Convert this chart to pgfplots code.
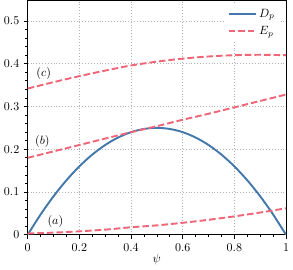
\documentclass[border=0pt]{standalone}
\usepackage{pgfplots}
\pgfplotsset{compat=1.18}
\definecolor{tolblue}{HTML}{4477AA}
\definecolor{tolred}{HTML}{EE6677}
\begin{document}
\begin{tikzpicture}
\begin{axis}[
  scale only axis,
  width=215bp, height=195bp,
  xmin=0, xmax=1, ymin=0, ymax=0.548,
  xtick={0,0.2,0.4,0.6,0.8,1},
  ytick={0,0.1,0.2,0.3,0.4,0.5},
  xticklabels={0,0.2,0.4,0.6,0.8,1},
  yticklabels={0,0.1,0.2,0.3,0.4,0.5},
  minor x tick num=3, minor y tick num=4,
  tick pos=left, tick align=outside,
  major tick length=3.5pt, minor tick length=2pt,
  every tick/.style={black, line width=0.6pt},
  axis line style={line width=0.8pt},
  grid=major,
  major grid style={gray!60, dotted, line width=0.6pt},
  xlabel={$\psi$},
  xlabel style={at={(axis description cs:0.5,0)}, anchor=center, yshift=-21pt},
  legend style={at={(rel axis cs:0.98,0.985)}, anchor=north east, draw=none, fill=white, row sep=2pt, font=\normalsize},
  legend cell align=left,
  legend image code/.code={\draw[#1] (0cm,0cm) -- (0.8cm,0cm);},
]
\addplot[tolblue, line width=1.6pt, smooth] coordinates {
(0,0) (0.05,0.0475) (0.1,0.09) (0.15,0.1275) (0.2,0.16) (0.25,0.1875) (0.3,0.21) (0.35,0.2275) (0.4,0.24) (0.45,0.2475) (0.5,0.25) (0.55,0.2475) (0.6,0.24) (0.65,0.2275) (0.7,0.21) (0.75,0.1875) (0.8,0.16) (0.85,0.1275) (0.9,0.09) (0.95,0.0475) (1,0)
};
\addlegendentry{$D_p$}
\addplot[tolred, line width=1.6pt, smooth, dash pattern=on 5.5pt off 2.5pt] coordinates {
(0,0.003) (0.1,0.005) (0.2,0.008) (0.3,0.012) (0.4,0.0175) (0.5,0.022) (0.6,0.028) (0.7,0.035) (0.8,0.043) (0.9,0.052) (1,0.062)
};
\addlegendentry{$E_p$}
\addplot[tolred, line width=1.6pt, smooth, dash pattern=on 5.5pt off 2.5pt, forget plot] coordinates {
(0,0.180) (0.1,0.195) (0.2,0.210) (0.3,0.225) (0.4,0.240) (0.5,0.254) (0.6,0.269) (0.7,0.283) (0.8,0.298) (0.9,0.313) (1,0.328)
};
\addplot[tolred, line width=1.6pt, smooth, dash pattern=on 5.5pt off 2.5pt, forget plot] coordinates {
(0,0.342) (0.1,0.357) (0.2,0.371) (0.3,0.384) (0.4,0.396) (0.5,0.405) (0.6,0.412) (0.7,0.417) (0.8,0.420) (0.9,0.421) (1,0.420)
};
\node at (axis cs:0.107,0.032) {$(a)$};
\node at (axis cs:0.057,0.219) {$(b)$};
\node at (axis cs:0.062,0.378) {$(c)$};
\end{axis}
\end{tikzpicture}
\end{document}
